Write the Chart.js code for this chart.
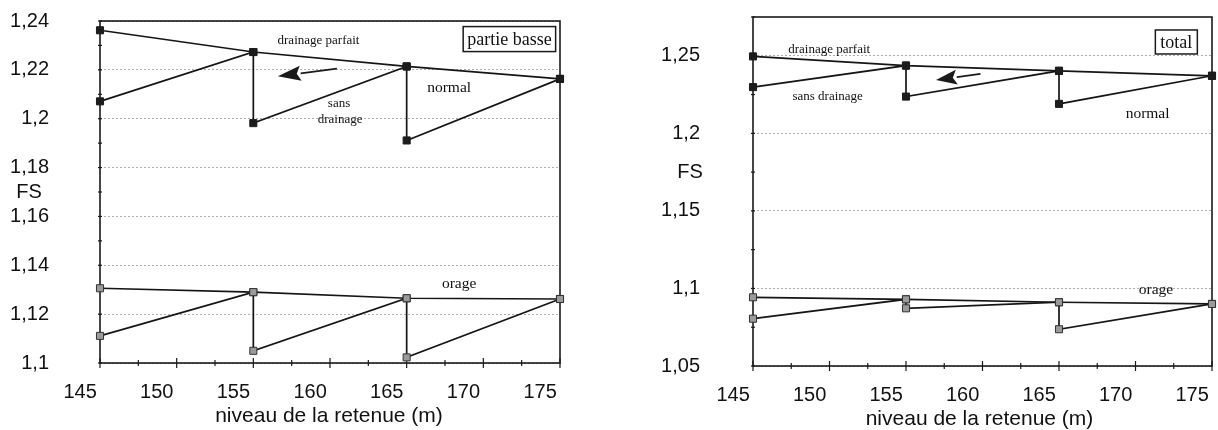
<!DOCTYPE html>
<html>
<head>
<meta charset="utf-8">
<script src="https://cdn.jsdelivr.net/npm/chart.js@4.4.1/dist/chart.umd.min.js"></script>
<style>
  html, body { margin:0; padding:0; background:#fff; }
  #wrap { position:relative; width:1218px; height:430px; overflow:hidden; background:#fff; }
  canvas { position:absolute; top:0; }
</style>
</head>
<body>
<div id="wrap">
  <canvas id="c1" width="609" height="430" style="left:0"></canvas>
  <canvas id="c2" width="609" height="430" style="left:609px"></canvas>
</div>
<script>
// ---- data ----
const xLevels = [146.3, 156.3, 166.3, 176.3];          // niveau de la retenue (m)
const xTickLabels = [145, 150, 155, 160, 165, 170, 175];
const yTicksBasse = [1.10, 1.12, 1.14, 1.16, 1.18, 1.20, 1.22, 1.24];
const yTicksTotal = [1.05, 1.10, 1.15, 1.20, 1.25];

// partie basse
const basseParfait      = [1.2362, 1.2273, 1.2214, 1.2163];
const basseSansDrainage = [1.2071, 1.1982, 1.1911];
const basseOrageParfait = [1.1306, 1.1290, 1.1265, 1.1262];
const basseOrageSans    = [1.1111, 1.1050, 1.1023];

// total
const totalParfait      = [1.2496, 1.2437, 1.2403, 1.2371];
const totalSansDrainage = [1.2298, 1.2237, 1.2190];
const totalOrageParfait = [1.0943, 1.0930, 1.0911, 1.0900];
const totalOrageSans    = [1.0805, 1.0872, 1.0737];

// ---- helpers ----
function straight(vals) { return vals.map((v, i) => ({ x: xLevels[i], y: v })); }
function sawtooth(parfait, sans) {
  const pts = [];
  for (let i = 0; i < sans.length; i++) {
    if (i > 0) pts.push({ x: xLevels[i], y: parfait[i] });
    pts.push({ x: xLevels[i], y: sans[i] });
  }
  pts.push({ x: xLevels[xLevels.length - 1], y: parfait[parfait.length - 1] });
  return pts;
}
const fmt = v => String(Number(v.toFixed(3))).replace('.', ',');

const darkMarker = { pointStyle: 'rect', pointRadius: 5, pointBackgroundColor: '#1c1c1c', pointBorderColor: '#1c1c1c', pointBorderWidth: 1 };
const greyMarker = { pointStyle: 'rect', pointRadius: 5, pointBackgroundColor: '#9a9a9a', pointBorderColor: '#333', pointBorderWidth: 1 };
function ds(label, data, marker) {
  return Object.assign({ label, data, borderColor: '#151515', borderWidth: 1.7, tension: 0, fill: false, clip: false, pointHoverRadius: 5 }, marker);
}

const decor = {
  id: 'decor',
  beforeDatasetsDraw(chart, args, o) {
    const { ctx, chartArea: a, scales: { x, y } } = chart;
    ctx.save();
    ctx.strokeStyle = '#1a1a1a';
    ctx.lineWidth = 1.6;
    ctx.strokeRect(a.left, a.top, a.right - a.left, a.bottom - a.top);
    ctx.lineWidth = 1.2;
    // x tick marks
    let i = 0;
    for (let v = x.min; v <= x.max + 1e-6; v += o.xMinor, i++) {
      const px = x.getPixelForValue(v);
      const L = (i % 2 === 0) ? 5 : 3;
      ctx.beginPath(); ctx.moveTo(px, a.bottom - L); ctx.lineTo(px, a.bottom + L); ctx.stroke();
    }
    // y tick marks
    for (let v = y.min; v <= y.max + 1e-6; v += o.yMinor) {
      const py = y.getPixelForValue(v);
      ctx.beginPath(); ctx.moveTo(a.left - 2, py); ctx.lineTo(a.left + 2, py); ctx.stroke();
    }
    ctx.restore();
  },
  afterDatasetsDraw(chart, args, o) {
    const { ctx, chartArea: a, scales: { x, y } } = chart;
    ctx.save();
    ctx.fillStyle = '#111';
    ctx.textAlign = 'center';
    ctx.textBaseline = 'middle';
    // x tick labels
    ctx.font = '20px "Liberation Sans", Arial, sans-serif';
    xTickLabels.forEach(v => ctx.fillText(String(v), x.getPixelForValue(v), a.bottom + 29));
    // x title
    ctx.font = '21px "Liberation Sans", Arial, sans-serif';
    ctx.fillText('niveau de la retenue (m)', (a.left + a.right) / 2 + o.titleDx, a.bottom + 53);
    // FS
    ctx.font = '20px "Liberation Sans", Arial, sans-serif';
    ctx.fillText('FS', o.fsX, y.getPixelForValue(o.fsY));
    // annotations
    o.notes.forEach(n => {
      ctx.font = n.size + 'px "Liberation Serif", "Times New Roman", serif';
      const px = x.getPixelForValue(n.x), py = y.getPixelForValue(n.y);
      if (n.box) {
        const w = ctx.measureText(n.text).width + n.box[0] * 2, h = n.box[1];
        ctx.fillStyle = '#fff';
        ctx.fillRect(px - w / 2, py - h / 2, w, h);
        ctx.strokeStyle = '#1a1a1a'; ctx.lineWidth = 1.5;
        ctx.strokeRect(px - w / 2, py - h / 2, w, h);
        ctx.fillStyle = '#111';
      }
      ctx.fillText(n.text, px, py + 1);
    });
    // arrow
    const ar = o.arrow;
    const x1 = x.getPixelForValue(ar.from[0]), y1 = y.getPixelForValue(ar.from[1]);
    const x2 = x.getPixelForValue(ar.to[0]), y2 = y.getPixelForValue(ar.to[1]);
    const ang = Math.atan2(y2 - y1, x2 - x1);
    const hl = ar.head, hw = 7.5;
    const bx = x2 - hl * Math.cos(ang), by = y2 - hl * Math.sin(ang);
    ctx.strokeStyle = '#1a1a1a'; ctx.lineWidth = 1.8;
    ctx.beginPath(); ctx.moveTo(x1, y1); ctx.lineTo(bx, by); ctx.stroke();
    ctx.fillStyle = '#1a1a1a';
    ctx.beginPath();
    ctx.moveTo(x2, y2);
    ctx.lineTo(bx + hw * Math.sin(ang), by - hw * Math.cos(ang));
    ctx.lineTo(bx + 4 * Math.cos(ang), by + 4 * Math.sin(ang));
    ctx.lineTo(bx - hw * Math.sin(ang), by + hw * Math.cos(ang));
    ctx.closePath(); ctx.fill();
    ctx.restore();
  }
};

function makeChart(id, p) {
  return new Chart(document.getElementById(id), {
    type: 'line',
    data: {
      datasets: [
        ds('drainage parfait', straight(p.parfait), darkMarker),
        ds('sans drainage', sawtooth(p.parfait, p.sans), darkMarker),
        ds('orage drainage parfait', straight(p.orageParfait), greyMarker),
        ds('orage sans drainage', sawtooth(p.orageParfait, p.orageSans), greyMarker)
      ]
    },
    options: {
      responsive: false,
      animation: false,
      devicePixelRatio: 1,
      layout: { padding: p.padding },
      plugins: {
        legend: { display: false },
        tooltip: { enabled: false },
        decor: p.decor
      },
      scales: {
        x: {
          type: 'linear',
          min: xLevels[0], max: xLevels[xLevels.length - 1],
          grid: { display: false },
          border: { display: false },
          ticks: { display: false },
          afterFit: s => { s.height = p.xHeight; s.paddingLeft = 0; s.paddingRight = 0; }
        },
        y: {
          type: 'linear',
          min: p.yMin, max: p.yMax,
          afterBuildTicks: s => { s.ticks = p.yTicks.map(v => ({ value: v })); },
          grid: { color: 'rgba(120,120,120,0.6)', lineWidth: 1, drawTicks: false },
          border: { display: false, dash: [2, 2] },
          ticks: {
            padding: p.labelPad,
            color: '#111',
            font: { family: '"Liberation Sans", Arial, sans-serif', size: 20 },
            callback: v => fmt(v)
          },
          afterFit: s => { s.width = p.yWidth; s.paddingTop = 0; s.paddingBottom = 0; }
        }
      }
    },
    plugins: [decor]
  });
}

makeChart('c1', {
  parfait: basseParfait, sans: basseSansDrainage,
  orageParfait: basseOrageParfait, orageSans: basseOrageSans,
  yMin: 1.10, yMax: 1.24, yTicks: yTicksBasse,
  padding: { top: 21, right: 49, left: 0, bottom: 0 },
  xHeight: 67, yWidth: 100, labelPad: 51,
  decor: {
    xMinor: 2.5, yMinor: 0.01, titleDx: -1, fsX: 29, fsY: 1.17,
    notes: [
      { text: 'drainage parfait', x: 160.55, y: 1.2324, size: 13 },
      { text: 'partie basse', x: 173.0, y: 1.2326, size: 18, box: [4, 25] },
      { text: 'normal', x: 169.07, y: 1.2131, size: 15.5 },
      { text: 'sans', x: 161.89, y: 1.2066, size: 13 },
      { text: 'drainage', x: 161.96, y: 1.2000, size: 13 },
      { text: 'orage', x: 169.72, y: 1.1328, size: 15.5 }
    ],
    arrow: { from: [161.75, 1.2205], to: [157.9, 1.2174], head: 23 }
  }
});

makeChart('c2', {
  parfait: totalParfait, sans: totalSansDrainage,
  orageParfait: totalOrageParfait, orageSans: totalOrageSans,
  yMin: 1.05, yMax: 1.275, yTicks: yTicksTotal,
  padding: { top: 17, right: 1, left: 0, bottom: 0 },
  xHeight: 64, yWidth: 144, labelPad: 53,
  decor: {
    xMinor: 2.5, yMinor: 0.025, titleDx: -3, fsX: 81, fsY: 1.1745,
    notes: [
      { text: 'drainage parfait', x: 151.28, y: 1.2544, size: 13 },
      { text: 'sans drainage', x: 151.18, y: 1.2241, size: 13 },
      { text: 'total', x: 173.97, y: 1.2589, size: 18, box: [5, 24] },
      { text: 'normal', x: 172.09, y: 1.2131, size: 15.5 },
      { text: 'orage', x: 172.64, y: 1.0996, size: 15.5 }
    ],
    arrow: { from: [161.17, 1.2383], to: [158.26, 1.2344], head: 21 }
  }
});
</script>
</body>
</html>
